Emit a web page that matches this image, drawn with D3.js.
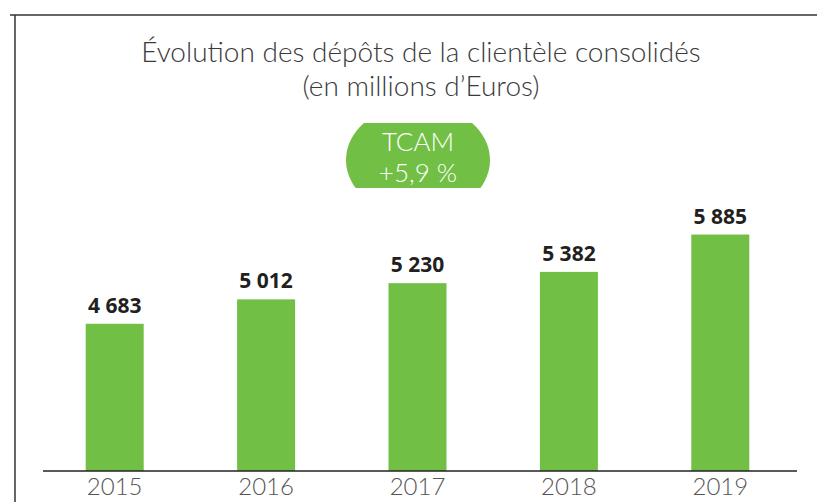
<!DOCTYPE html>
<html><head><meta charset="utf-8">
<script src="https://cdn.jsdelivr.net/npm/d3@7/dist/d3.min.js"></script>
<style>html,body{margin:0;padding:0;background:#fff;}svg{display:block;}</style>
</head><body>
<svg id="chart" width="817" height="502"></svg>
<script>
const years = ["2015", "2016", "2017", "2018", "2019"];
const deposits = [4683, 5012, 5230, 5382, 5885];
const titleLines = ["Évolution des dépôts de la clientèle consolidés", "(en millions d’Euros)"];
const badgeLines = ["TCAM", "+5,9 %"];

const fmt = v => d3.format(",")(v).replace(/,/g, " ");
const svg = d3.select("#chart");
const green = "#71bf44";

const x = d3.scaleBand().domain(years).range([39, 796]).paddingInner(0.617).paddingOuter(0.3085);
const y = d3.scaleLinear().domain([2700, 6000]).range([471, 226]);

// frame
svg.append("line").attr("x1", 10).attr("x2", 817).attr("y1", 15).attr("y2", 15).attr("stroke", "#333").attr("stroke-width", 1.5);
svg.append("line").attr("x1", 15).attr("x2", 15).attr("y1", 15).attr("y2", 502).attr("stroke", "#333").attr("stroke-width", 1.5);

// title
svg.append("text").attr("x", 421).attr("y", 62).attr("text-anchor", "middle")
  .attr("font-family", "Lato").attr("font-weight", 300).attr("font-size", 28).attr("fill", "#3a3a3a")
  .selectAll("tspan").data(titleLines).join("tspan")
  .attr("x", 421).attr("dy", (d, i) => i ? 34 : 0).text(d => d);

// badge
const clip = svg.append("defs").append("clipPath").attr("id", "bclip");
clip.append("rect").attr("x", 330).attr("y", 123).attr("width", 180).attr("height", 65);
svg.append("ellipse").attr("cx", 418).attr("cy", 160).attr("rx", 72).attr("ry", 56)
  .attr("fill", green).attr("clip-path", "url(#bclip)");
svg.append("text").attr("text-anchor", "middle")
  .attr("font-family", "Lato").attr("font-weight", 300).attr("font-size", 26).attr("fill", "#fff")
  .selectAll("tspan").data(badgeLines).join("tspan")
  .attr("x", 418).attr("y", (d, i) => 151 + i * 31).text(d => d);

// bars
svg.append("g").selectAll("rect").data(deposits).join("rect")
  .attr("x", (d, i) => x(years[i])).attr("width", x.bandwidth())
  .attr("y", d => y(d)).attr("height", d => y.range()[0] - y(d))
  .attr("fill", green);

// value labels
svg.append("g").selectAll("text").data(deposits).join("text")
  .attr("x", (d, i) => x(years[i]) + x.bandwidth() / 2)
  .attr("y", d => y(d) - 11)
  .attr("text-anchor", "middle")
  .attr("font-family", "Open Sans").attr("font-weight", 700).attr("font-size", 21).attr("fill", "#231f20")
  .text(d => fmt(d));

// x axis
const ax = svg.append("g").attr("transform", "translate(0,471)")
  .call(d3.axisBottom(x).tickSize(0).tickPadding(7));
ax.select(".domain").attr("d", "M43,0H797").attr("stroke", "#222").attr("stroke-width", 1.5);
ax.selectAll("text").attr("font-family", "Lato").attr("font-weight", 300).attr("font-size", 24).attr("fill", "#555");
</script>
</body></html>
